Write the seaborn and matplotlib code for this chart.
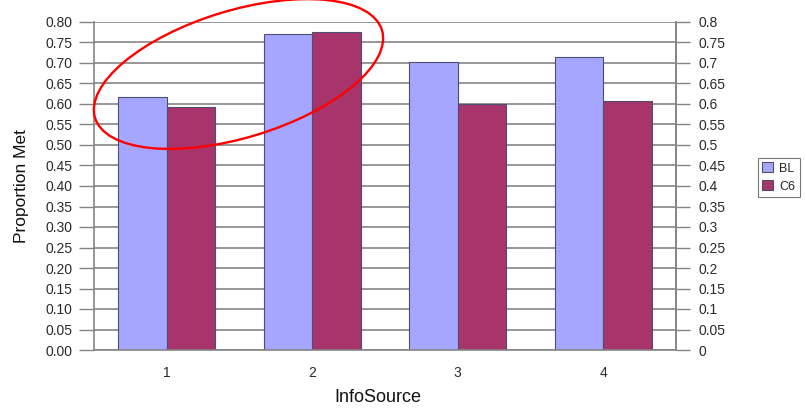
import matplotlib
matplotlib.use("Agg")
import matplotlib.pyplot as plt
from matplotlib.patches import Ellipse
from matplotlib.transforms import IdentityTransform
from matplotlib.ticker import FixedLocator, FuncFormatter
import numpy as np
import pandas as pd
import seaborn as sns

# Chart data
info_sources = ["1", "2", "3", "4"]
bl_values = [0.616, 0.771, 0.702, 0.715]
c6_values = [0.592, 0.776, 0.599, 0.608]
series_names = ["BL", "C6"]
y_ticks = [round(0.05 * i, 2) for i in range(17)]

df = pd.DataFrame({
    "InfoSource": info_sources * 2,
    "Proportion": bl_values + c6_values,
    "Series": [series_names[0]] * 4 + [series_names[1]] * 4,
})

sns.set_style("white")
plt.rcParams["font.family"] = ["Liberation Sans", "DejaVu Sans"]

W, H = 806, 408
fig = plt.figure(figsize=(W / 100, H / 100), dpi=100)
ax = fig.add_axes([94 / W, 1 - 350 / H, (676 - 94) / W, (350 - 22) / H])

palette = {"BL": "#A5A6FF", "C6": "#A8346C"}
sns.barplot(data=df, x="InfoSource", y="Proportion", hue="Series",
            order=info_sources, hue_order=series_names, palette=palette,
            saturation=1, width=0.667, edgecolor="#4d4d70", linewidth=0.8,
            ax=ax, legend=True)

grid_col = "#858585"
text_col = "#2a2a2a"
ax.set_ylim(0, 0.8)
ax.set_xlim(-0.5, 3.5)
ax.set_axisbelow(True)
ax.yaxis.grid(True, color=grid_col, lw=1.2)
ax.set_yticks(y_ticks)
ax.yaxis.set_major_formatter(FuncFormatter(lambda v, p: f"{v:.2f}"))
ax.tick_params(axis="y", direction="out", length=11, width=1.0, color=grid_col,
               pad=4.5, labelsize=10, labelcolor=text_col)

# category labels centred under groups, tick marks between groups
ax.tick_params(axis="x", which="major", length=0, pad=11.5, labelsize=10,
               labelcolor=text_col)
ax.xaxis.set_minor_locator(FixedLocator(np.arange(-0.5, 4.0, 1.0)))
ax.tick_params(axis="x", which="minor", direction="out", length=8, width=1.0,
               color=grid_col)

for side in ["left", "bottom", "right"]:
    ax.spines[side].set_visible(True)
    ax.spines[side].set_color(grid_col)
    ax.spines[side].set_linewidth(1.2)
ax.spines["top"].set_visible(False)

ax.set_xlabel("InfoSource", fontsize=13, color="#111111")
ax.xaxis.set_label_coords((378 - 94) / 582, (350 - 389) / 328)
ax.set_ylabel("Proportion Met", fontsize=12.5, color="#111111", va="center")
ax.yaxis.set_label_coords((22 - 94) / 582, 0.5)

# secondary scale on the right
ax2 = ax.twinx()
ax2.set_ylim(0, 0.8)
ax2.set_yticks(y_ticks)
ax2.yaxis.set_major_formatter(FuncFormatter(lambda v, p: f"{v:g}"))
ax2.tick_params(axis="y", direction="out", length=10, width=1.0, color=grid_col,
                pad=6, labelsize=10, labelcolor=text_col)
for side in ["left", "bottom", "top"]:
    ax2.spines[side].set_visible(False)
ax2.spines["right"].set_color(grid_col)
ax2.spines["right"].set_linewidth(1.2)

# legend to the right of the plot
handles, labels = ax.get_legend_handles_labels()
ax.get_legend().remove()
leg = fig.legend(handles, labels, loc="upper left",
                 bbox_to_anchor=(758 / W, 1 - 158 / H), fontsize=9,
                 frameon=True, fancybox=False, edgecolor="#555555",
                 handlelength=0.85, handleheight=0.85, handletextpad=0.5,
                 labelspacing=0.45, borderpad=0.35, borderaxespad=0)
leg.get_frame().set_linewidth(0.8)

# red highlight ring around the first two groups
ring = Ellipse((238.5, H - 74), width=300, height=127, angle=17,
               transform=IdentityTransform(), fill=False, edgecolor="#ff0000",
               linewidth=1.7, clip_on=False, zorder=10)
fig.patches.append(ring)

fig.savefig("out.png", dpi=100, facecolor="white")
